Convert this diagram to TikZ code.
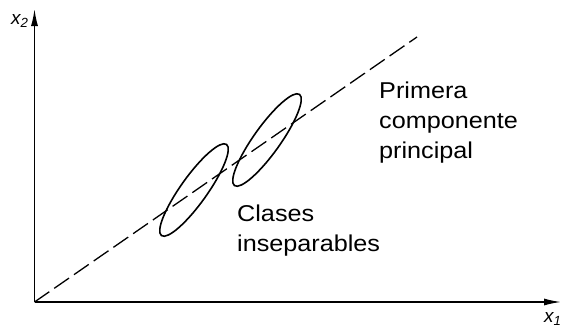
\documentclass[tikz,border=0pt]{standalone}
\usepackage{fontspec}
\setmainfont{Liberation Sans}
\newfontfamily\labelfont[FakeStretch=1.1]{Liberation Sans}
\usetikzlibrary{arrows.meta}
\tikzset{
    axis/.style={line width=1.4bp, -{Latex[length=17bp,width=7bp]}},
    component/.style={line width=1.3bp, dash pattern=on 18bp off 6bp},
    clase/.style={line width=1.6bp},
    etiqueta/.style={font=\labelfont\fontsize{23}{30}\selectfont, align=left, inner sep=0pt, anchor=north west},
    eje/.style={font=\itshape\fontsize{19}{19}\selectfont, inner sep=0pt, anchor=north west},
}
\begin{document}
\begin{tikzpicture}[x=1bp,y=1bp]
    \useasboundingbox (0,0) rectangle (561,328);
    \coordinate (O) at (34.5,26);
    \coordinate (xend) at (561,26);
    \coordinate (yend) at (34.5,319);
    \coordinate (pcend) at (417,291);
    % Axes
    \draw[axis] (O) -- (xend);
    \draw[axis] (O) -- (yend);
    \node[eje] (xlab) at (11,314) {x\textsubscript{2}};
    \node[eje] (ylab) at (544,16) {x\textsubscript{1}};
    % First principal component
    \draw[component] (O) -- (pcend);
    % Two classes
    \draw[clase, rotate around={54.5:(194,138)}] (194,138) ellipse (56 and 13.3);
    \draw[clase, rotate around={54.5:(267,188)}] (267,188) ellipse (56 and 13.3);
    % Labels
    \node[etiqueta] (pc) at (379,246) {Primera\\componente\\principal};
    \node[etiqueta] (cl) at (237,123) {Clases\\inseparables};
\end{tikzpicture}
\end{document}
